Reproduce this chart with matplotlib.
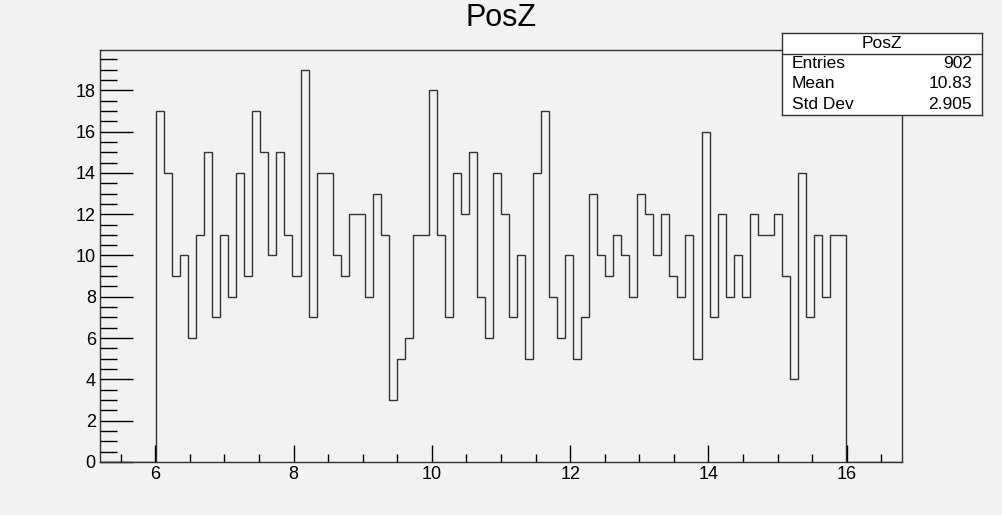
import numpy as np
import matplotlib
matplotlib.use('Agg')
import matplotlib.pyplot as plt
from matplotlib.ticker import MultipleLocator

plt.rcParams['font.family'] = ['Liberation Sans', 'DejaVu Sans']

# histogram: 100 bins on [5.2, 16.8], only bins 7..92 are filled
x_min, x_max, n_bins = 5.2, 16.8, 100
first_bin = 7
counts = [17, 14, 9, 10, 6, 11, 15, 7, 11, 8,
          14, 9, 17, 15, 10, 15, 11, 9, 19, 7,
          14, 14, 10, 9, 12, 12, 8, 13, 11, 3,
          5, 6, 11, 11, 18, 11, 7, 14, 12, 15,
          8, 6, 14, 12, 7, 10, 5, 14, 17, 8,
          6, 10, 5, 7, 13, 10, 9, 11, 10, 8,
          13, 12, 10, 12, 9, 8, 11, 5, 16, 7,
          12, 8, 10, 8, 12, 11, 11, 12, 9, 4,
          14, 7, 11, 8, 11, 11]

stat_names = ['Entries', 'Mean', 'Std Dev']
stat_values = ['902', '10.83', '2.905']

edges = np.linspace(x_min, x_max, n_bins + 1)
values = np.zeros(n_bins)
values[first_bin:first_bin + len(counts)] = counts

bg = '#f2f2f2'
fig = plt.figure(figsize=(10.02, 5.15), dpi=100, facecolor=bg)
W, H = 1002, 515
ax = fig.add_axes([100 / W, (H - 462) / H, 802 / W, 412 / H], facecolor=bg)

ax.stairs(values, edges, color='#333333', lw=1.0)

ax.set_xlim(x_min, x_max)
ax.set_ylim(0, max(counts) * 1.05)

ax.xaxis.set_major_locator(MultipleLocator(2))
ax.xaxis.set_minor_locator(MultipleLocator(0.5))
ax.yaxis.set_major_locator(MultipleLocator(2))
ax.yaxis.set_minor_locator(MultipleLocator(0.5))
ax.tick_params(axis='x', which='major', direction='in', length=12, width=1, pad=3, labelsize=13)
ax.tick_params(axis='x', which='minor', direction='in', length=6, width=1)
ax.tick_params(axis='y', which='major', direction='in', length=24, width=1, pad=3, labelsize=13)
ax.tick_params(axis='y', which='minor', direction='in', length=12, width=1)
for s in ax.spines.values():
    s.set_linewidth(1)
    s.set_color('#333333')

fig.text(501 / W, 1 - 18 / H, 'PosZ', ha='center', va='center', fontsize=22)

# stats box
sb = fig.add_axes([782 / W, (H - 115) / H, 200 / W, 82 / H], facecolor='white')
sb.set_xlim(0, 200)
sb.set_ylim(82, 0)
sb.set_xticks([])
sb.set_yticks([])
for s in sb.spines.values():
    s.set_linewidth(1)
    s.set_color('#333333')
sb.axhline(20.5, color='#333333', lw=1)
sb.text(100, 10, 'PosZ', ha='center', va='center', fontsize=12.5)
for i, (name, val) in enumerate(zip(stat_names, stat_values)):
    y = 30.5 + i * 20.5
    sb.text(10, y, name, ha='left', va='center', fontsize=12.5)
    sb.text(190, y, val, ha='right', va='center', fontsize=12.5)

fig.savefig('out.png', dpi=100, facecolor=bg)
